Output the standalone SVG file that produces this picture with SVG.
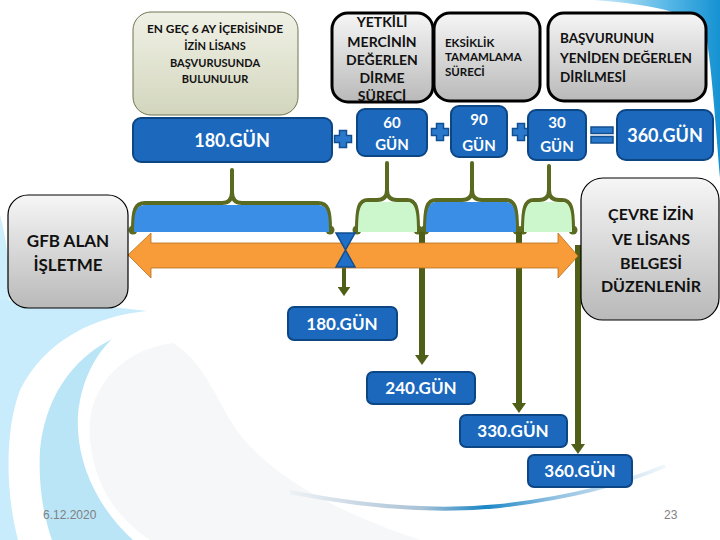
<svg xmlns="http://www.w3.org/2000/svg" width="720" height="540" viewBox="0 0 720 540">
<style>
text{font-family:Lato,"Liberation Sans",Arial,sans-serif;font-weight:bold}
.dark{fill:#111}
.wt{fill:#fff;text-anchor:middle}
.mid{text-anchor:middle}
.bbox{fill:#1b68bd;stroke:#0d4684;stroke-width:2}
.gbox{fill:url(#gray);stroke:#000;stroke-width:3}
.gbox1{fill:url(#gray);stroke:#000;stroke-width:1.2}
.brace{fill:none;stroke:#5a6a20;stroke-width:4;stroke-linecap:round;stroke-linejoin:round}
.dot{fill:#5a6a20}
.vline{stroke:#4f5f18;stroke-width:6;fill:none}
.foot{font-family:"Liberation Sans",Arial,sans-serif;font-weight:normal;fill:#808080;font-size:12px}
</style>
<defs>
<linearGradient id="gray" x1="0" y1="0" x2="0" y2="1">
<stop offset="0" stop-color="#f6f6f6"/><stop offset="1" stop-color="#b9b9b9"/>
</linearGradient>
<linearGradient id="olive" x1="0" y1="0" x2="0" y2="1">
<stop offset="0" stop-color="#f0f1e6"/><stop offset="1" stop-color="#d3d6bd"/>
</linearGradient>
<linearGradient id="tr" x1="0" y1="0" x2="1" y2="0">
<stop offset="0" stop-color="#d2eefa"/><stop offset="0.6" stop-color="#55b6e6"/><stop offset="1" stop-color="#1592d2"/>
</linearGradient>
<linearGradient id="arc" x1="0" y1="0" x2="1" y2="0">
<stop offset="0" stop-color="#eef1f4"/><stop offset="0.35" stop-color="#a9c2d6"/><stop offset="0.52" stop-color="#1a86c6"/><stop offset="0.7" stop-color="#8fc0e2"/><stop offset="1" stop-color="#f2f7fb"/>
</linearGradient>
<marker id="ah" viewBox="0 0 10 14" refX="1" refY="7" markerWidth="10" markerHeight="14" markerUnits="userSpaceOnUse" orient="auto">
<path d="M0,0 L10,7 L0,14 Z" fill="#4f5f18"/>
</marker>
<marker id="ahs" viewBox="0 0 10 14" refX="1" refY="7" markerWidth="9" markerHeight="13" markerUnits="userSpaceOnUse" orient="auto">
<path d="M0,0 L10,7 L0,14 Z" fill="#4f5f18"/>
</marker>
<polygon id="plus" points="-3.5,-8.5 3.5,-8.5 3.5,-3.5 8.5,-3.5 8.5,3.5 3.5,3.5 3.5,8.5 -3.5,8.5 -3.5,3.5 -8.5,3.5 -8.5,-3.5 -3.5,-3.5" fill="#2a78cc" stroke="#124f90" stroke-width="1.5"/>
</defs>

<g id="background">
<rect width="720" height="540" fill="#fff"/>
<path d="M593,0 L720,0 L720,178 C716,130 712,70 706,35 C700,15 660,5 593,0 Z" fill="url(#tr)"/>
<path d="M0,215 C8,245 12,280 8,320 L0,330 Z" fill="#cdeefb"/>
<path d="M147,311 C95,316 45,340 20,390 C5,430 5,490 18,540 L0,540 L0,300 C50,302 100,305 147,311 Z" fill="#c8ecfb"/>
<path d="M112,339 C70,360 45,400 40,450 C38,490 45,520 52,540 L133,540 C100,510 80,470 78,430 C76,395 90,360 112,339 Z" fill="#b9e5f7"/>
<path d="M173,343 C120,350 85,390 90,440 C95,490 120,520 150,540 L420,540 C330,510 260,470 230,420 C210,385 200,360 173,343 Z" fill="#f5f7f8"/>
<path d="M290,492 C370,508 440,512 500,506 C570,498 620,485 665,466" fill="none" stroke="url(#arc)" stroke-width="4"/>
</g>

<g id="connectors">
<path class="brace" d="M133,230 C133,210 135,203 145,203 L222,203 Q232,203 232,192 L232,170 M232,192 Q232,203 242,203 L318,203 C328,203 330,210 330,230" />
<path class="brace" d="M357,230 C357,208 359,200 368,200 L377,200 Q387,200 387,190 L387,163 M387,190 Q387,200 397,200 L407,200 C416,200 418,208 418,230"/>
<path class="brace" d="M425,230 C425,208 427,200 436,200 L462,200 Q472,200 472,190 L472,163 M472,190 Q472,200 482,200 L506,200 C515,200 517,208 517,230"/>
<path class="brace" d="M523,230 C523,208 525,200 534,200 L539,200 Q549,200 549,190 L549,166 M549,190 Q549,200 559,200 L562,200 C571,200 573,208 573,230"/>
<circle class="dot" cx="133" cy="230" r="4.5"/><circle class="dot" cx="330" cy="230" r="4.5"/>
<circle class="dot" cx="357" cy="230" r="4.5"/><circle class="dot" cx="418" cy="230" r="4.5"/>
<circle class="dot" cx="425" cy="230" r="4.5"/><circle class="dot" cx="517" cy="230" r="4.5"/>
<circle class="dot" cx="523" cy="230" r="4.5"/><circle class="dot" cx="573" cy="230" r="4.5"/>
<line class="vline" x1="422" y1="232" x2="422" y2="356" marker-end="url(#ah)"/>
<line class="vline" x1="519" y1="232" x2="519" y2="404" marker-end="url(#ah)"/>
<line class="vline" x1="578" y1="245" x2="578" y2="445" marker-end="url(#ah)"/>
<line x1="344" y1="266" x2="344" y2="288" stroke="#4f5f18" stroke-width="4" marker-end="url(#ahs)"/>
</g>

<g id="fills">
<path d="M134,232 C134,211 136,205 146,205 L317,205 C327,205 329,211 329,232 Z" fill="#3a8ee6"/>
<path d="M358,232 C358,209 360,202 369,202 L406,202 C415,202 417,209 417,232 Z" fill="#ccf6cc"/>
<path d="M426,232 C426,209 428,202 437,202 L505,202 C514,202 516,209 516,232 Z" fill="#3a8ee6"/>
<path d="M524,232 C524,209 526,202 535,202 L561,202 C570,202 572,209 572,232 Z" fill="#ccf6cc"/>
</g>

<g id="arrow">
<polygon points="128,255 151,233 151,243 558,243 558,233 578,256 558,278 558,268 151,268 151,278" fill="#f79c38" stroke="#b5701f" stroke-width="0.8"/>
</g>

<g id="hourglass">
<polygon points="336,233 355,233 345.5,250 355,267 336,267 345.5,250" fill="#1f6fc6" stroke="#114e90" stroke-width="1.5"/>
</g>

<g id="box-engec">
<rect x="133" y="12" width="165" height="103" rx="18" fill="url(#olive)" stroke="#6f7450" stroke-width="1"/>
<text class="dark mid" font-size="11" x="215" y="33" textLength="136" lengthAdjust="spacingAndGlyphs">EN GEÇ 6 AY İÇERİSİNDE</text>
<text class="dark mid" font-size="11" x="215" y="50">İZİN LİSANS</text>
<text class="dark mid" font-size="11" x="215" y="67">BAŞVURUSUNDA</text>
<text class="dark mid" font-size="11" x="215" y="83">BULUNULUR</text>
</g>

<g id="box-yetkili">
<rect class="gbox" x="332" y="13" width="101" height="89" rx="16"/>
<text class="dark mid" font-size="14" x="382" y="27">YETKİLİ</text>
<text class="dark mid" font-size="14" x="382" y="47">MERCİNİN</text>
<text class="dark mid" font-size="14" x="382" y="65">DEĞERLEN</text>
<text class="dark mid" font-size="14" x="382" y="83">DİRME</text>
<text class="dark mid" font-size="14" x="382" y="101">SÜRECİ</text>
</g>

<g id="box-eksiklik">
<rect class="gbox" x="434" y="13" width="106" height="88" rx="16"/>
<text class="dark" font-size="11.5" x="445" y="47">EKSİKLİK</text>
<text class="dark" font-size="11.5" x="445" y="61">TAMAMLAMA</text>
<text class="dark" font-size="11.5" x="445" y="76">SÜRECİ</text>
</g>

<g id="box-basvuru">
<rect class="gbox" x="548" y="13" width="158" height="88" rx="16"/>
<text class="dark" font-size="13.5" x="560" y="43">BAŞVURUNUN</text>
<text class="dark" font-size="13.5" x="560" y="63">YENİDEN DEĞERLEN</text>
<text class="dark" font-size="13.5" x="560" y="82">DİRİLMESİ</text>
</g>

<g id="top-180">
<rect class="bbox" x="133" y="118" width="199" height="44" rx="8"/>
<text class="wt" font-size="18" x="232" y="147">180.GÜN</text>
</g>
<g id="plus1"><use href="#plus" x="343" y="139"/></g>
<g id="top-60">
<rect class="bbox" x="357" y="109" width="70" height="47" rx="8"/>
<text class="wt" font-size="15" x="392" y="128">60</text>
<text class="wt" font-size="15" x="392" y="150">GÜN</text>
</g>
<g id="plus2"><use href="#plus" x="440" y="132"/></g>
<g id="top-90">
<rect class="bbox" x="451" y="106" width="56" height="51" rx="8"/>
<text class="wt" font-size="15" x="479" y="125">90</text>
<text class="wt" font-size="15" x="479" y="151">GÜN</text>
</g>
<g id="plus3"><use href="#plus" x="521" y="132"/></g>
<g id="top-30">
<rect class="bbox" x="528" y="110" width="58" height="50" rx="8"/>
<text class="wt" font-size="15" x="557" y="128">30</text>
<text class="wt" font-size="15" x="557" y="152">GÜN</text>
</g>
<g id="equals">
<rect x="591" y="127" width="22" height="6.5" fill="#2a78cc" stroke="#124f90" stroke-width="1.5"/>
<rect x="591" y="136.5" width="22" height="6.5" fill="#2a78cc" stroke="#124f90" stroke-width="1.5"/>
</g>
<g id="top-360">
<rect class="bbox" x="617" y="110" width="96" height="50" rx="9"/>
<text class="wt" font-size="18" x="665" y="142">360.GÜN</text>
</g>

<g id="gfb">
<rect class="gbox1" x="8" y="195" width="120" height="113" rx="20"/>
<text class="dark mid" font-size="17" x="68" y="247">GFB ALAN</text>
<text class="dark mid" font-size="17" x="68" y="271">İŞLETME</text>
</g>

<g id="cevre">
<rect class="gbox1" x="581" y="178" width="138" height="142" rx="22"/>
<text class="dark mid" font-size="16" x="651" y="220">ÇEVRE İZİN</text>
<text class="dark mid" font-size="16" x="651" y="245">VE LİSANS</text>
<text class="dark mid" font-size="16" x="651" y="269">BELGESİ</text>
<text class="dark mid" font-size="16" x="651" y="292">DÜZENLENİR</text>
</g>

<g id="low-180">
<rect class="bbox" x="288" y="307" width="109" height="33" rx="6"/>
<text class="wt" font-size="17" x="342" y="330">180.GÜN</text>
</g>
<g id="low-240">
<rect class="bbox" x="367" y="372" width="108" height="32" rx="6"/>
<text class="wt" font-size="17" x="421" y="394">240.GÜN</text>
</g>
<g id="low-330">
<rect class="bbox" x="460" y="415" width="107" height="32" rx="6"/>
<text class="wt" font-size="17" x="513" y="437">330.GÜN</text>
</g>
<g id="low-360">
<rect class="bbox" x="528" y="455" width="104" height="32" rx="6"/>
<text class="wt" font-size="17" x="580" y="477">360.GÜN</text>
</g>

<g id="footer">
<text class="foot" x="43" y="519">6.12.2020</text>
<text class="foot" x="664" y="519">23</text>
</g>
</svg>
